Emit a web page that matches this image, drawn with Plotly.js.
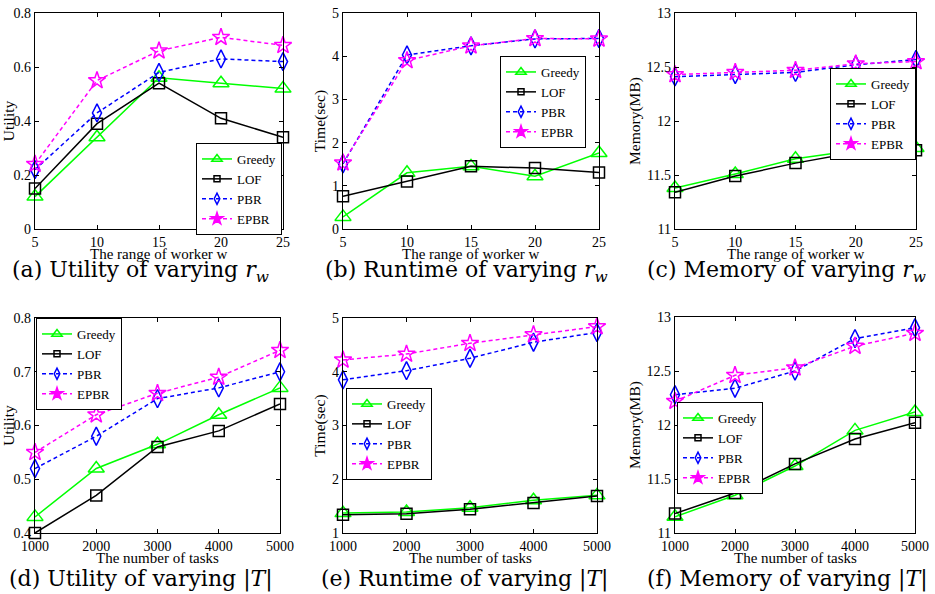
<!DOCTYPE html>
<html>
<head>
<meta charset="utf-8">
<script src="https://cdn.plot.ly/plotly-3.0.1.min.js"></script>
<style>html,body{margin:0;padding:0;background:#fff;}#chart{width:935px;height:594px;}</style>
</head>
<body>
<div id="chart"></div>
<script>
// ---- data ----
const seriesNames = ["Greedy", "LOF", "PBR", "EPBR"];
const xRw = [5, 10, 15, 20, 25];
const xTasks = [1000, 2000, 3000, 4000, 5000];

const utilRwGreedy = [0.12, 0.34, 0.56, 0.54, 0.52];
const utilRwLOF    = [0.15, 0.39, 0.54, 0.41, 0.34];
const utilRwPBR    = [0.22, 0.43, 0.58, 0.63, 0.62];
const utilRwEPBR   = [0.24, 0.55, 0.66, 0.71, 0.68];

const timeRwGreedy = [0.28, 1.30, 1.45, 1.22, 1.76];
const timeRwLOF    = [0.76, 1.10, 1.45, 1.41, 1.31];
const timeRwPBR    = [1.51, 4.03, 4.24, 4.40, 4.41];
const timeRwEPBR   = [1.53, 3.90, 4.24, 4.41, 4.40];

const memRwGreedy = [11.38, 11.51, 11.65, 11.73, 11.75];
const memRwLOF    = [11.34, 11.49, 11.61, 11.71, 11.73];
const memRwPBR    = [12.41, 12.43, 12.45, 12.52, 12.57];
const memRwEPBR   = [12.43, 12.45, 12.47, 12.53, 12.55];

const utilTGreedy = [0.43, 0.52, 0.565, 0.62, 0.67];
const utilTLOF    = [0.40, 0.47, 0.56, 0.59, 0.64];
const utilTPBR    = [0.52, 0.58, 0.65, 0.67, 0.70];
const utilTEPBR   = [0.55, 0.62, 0.66, 0.69, 0.74];

const timeTGreedy = [1.37, 1.39, 1.47, 1.61, 1.70];
const timeTLOF    = [1.34, 1.36, 1.44, 1.56, 1.69];
const timeTPBR    = [3.85, 4.02, 4.25, 4.55, 4.73];
const timeTEPBR   = [4.22, 4.33, 4.53, 4.69, 4.84];

const memTGreedy = [11.15, 11.35, 11.62, 11.95, 12.12];
const memTLOF    = [11.18, 11.37, 11.64, 11.87, 12.02];
const memTPBR    = [12.28, 12.34, 12.50, 12.80, 12.90];
const memTEPBR   = [12.22, 12.46, 12.53, 12.73, 12.85];

const xTitles = ["The range of worker w", "The range of worker w", "The range of worker w",
                 "The number of tasks", "The number of tasks", "The number of tasks"];
const yTitles = ["Utility", "Time(sec)", "Memory(MB)", "Utility", "Time(sec)", "Memory(MB)"];
const captions = ["(a) Utility of varying <i>r</i><sub><i>w</i></sub>",
                  "(b) Runtime of varying <i>r</i><sub><i>w</i></sub>",
                  "(c) Memory of varying <i>r</i><sub><i>w</i></sub>",
                  "(d) Utility of varying |<i>T</i>|",
                  "(e) Runtime of varying |<i>T</i>|",
                  "(f) Memory of varying |<i>T</i>|"];

// ---- styles ----
const W = 935, H = 594;
const styles = [
  {color: "#00ff00", symbol: "triangle-up-open", size: 14, lsize: 9, dash: "solid"},
  {color: "#000000", symbol: "square-open", size: 11, lsize: 6, dash: "solid"},
  {color: "#0000ff", symbol: "diamond-tall-open", size: 13, lsize: 8, dash: "4px,3px"},
  {color: "#ff00ff", symbol: "star-open", size: 13, lsize: 9, dash: "4px,3px"}
];
const panels = [
  {x: xRw, ys: [utilRwGreedy, utilRwLOF, utilRwPBR, utilRwEPBR], px: [35, 283], py: [13, 229], yr: [0, 0.8], dy: 0.2, xr: [5, 25], dx: 5, leg: [196, 143], cap: [140, 271], xt: 254},
  {x: xRw, ys: [timeRwGreedy, timeRwLOF, timeRwPBR, timeRwEPBR], px: [343, 599], py: [13, 229], yr: [0, 5], dy: 1, xr: [5, 25], dx: 5, leg: [500, 56], cap: [466, 271], xt: 254},
  {x: xRw, ys: [memRwGreedy, memRwLOF, memRwPBR, memRwEPBR], px: [675, 916], py: [13, 229], yr: [11, 13], dy: 0.5, xr: [5, 25], dx: 5, leg: [830, 68], cap: [786, 271], xt: 254},
  {x: xTasks, ys: [utilTGreedy, utilTLOF, utilTPBR, utilTEPBR], px: [35, 280], py: [318, 533], yr: [0.4, 0.8], dy: 0.1, xr: [1000, 5000], dx: 1000, leg: [36, 318], cap: [141, 579], xt: 558},
  {x: xTasks, ys: [timeTGreedy, timeTLOF, timeTPBR, timeTEPBR], px: [343, 597], py: [318, 533], yr: [1, 5], dy: 1, xr: [1000, 5000], dx: 1000, leg: [346, 388], cap: [465, 579], xt: 558},
  {x: xTasks, ys: [memTGreedy, memTLOF, memTPBR, memTEPBR], px: [675, 915], py: [317, 533], yr: [11, 13], dy: 0.5, xr: [1000, 5000], dx: 1000, leg: [677, 402], cap: [787, 579], xt: 558}
];

const SERIF = "Liberation Serif, Times New Roman, serif";
const traces = [];
const layout = {
  width: W, height: H,
  margin: {l: 0, r: 0, t: 0, b: 0},
  paper_bgcolor: "#fff", plot_bgcolor: "#fff",
  showlegend: true,
  annotations: []
};

panels.forEach((p, i) => {
  const n = i + 1;
  const xa = "x" + (n === 1 ? "" : n), ya = "y" + (n === 1 ? "" : n);
  const legName = "legend" + (n === 1 ? "" : n);
  p.ys.forEach((y, k) => {
    const s = styles[k];
    traces.push({
      type: "scatter", mode: "lines+markers", x: p.x, y: y,
      name: seriesNames[k], xaxis: xa, yaxis: ya, showlegend: false,
      cliponaxis: false,
      line: {color: s.color, width: 1.5, dash: s.dash},
      marker: {symbol: s.symbol, size: s.size, color: s.color, line: {color: s.color, width: 1.5}}
    });
  });
  // legend entries (small symbols, as in the reference)
  p.ys.forEach((y, k) => {
    const s = styles[k];
    traces.push({
      type: "scatter", mode: "lines+markers", x: [null], y: [null],
      name: seriesNames[k], xaxis: xa, yaxis: ya, legend: legName, showlegend: true,
      line: {color: s.color, width: 1.5, dash: s.dash},
      marker: {symbol: k === 3 ? "star" : s.symbol, size: s.lsize, color: s.color, line: {color: s.color, width: 1.5}}
    });
  });
  const axBase = {
    showline: true, linecolor: "#000", linewidth: 1.2, mirror: "ticks",
    ticks: "inside", ticklen: 4, tickcolor: "#000", tickwidth: 1,
    showgrid: false, zeroline: false,
    tickfont: {family: SERIF, size: 14, color: "#000"}, automargin: false
  };
  layout["xaxis" + (n === 1 ? "" : n)] = Object.assign({}, axBase, {
    domain: [p.px[0] / W, p.px[1] / W], anchor: ya, range: p.xr, dtick: p.dx, tick0: p.xr[0]
  });
  layout["yaxis" + (n === 1 ? "" : n)] = Object.assign({}, axBase, {
    domain: [1 - p.py[1] / H, 1 - p.py[0] / H], anchor: xa, range: p.yr, dtick: p.dy, tick0: p.yr[0],
    title: {text: yTitles[i], font: {family: SERIF, size: 15.5, color: "#000"}, standoff: 2}
  });
  layout[legName] = {
    x: p.leg[0] / W, y: 1 - p.leg[1] / H, xanchor: "left", yanchor: "top",
    xref: "paper", yref: "paper",
    bgcolor: "#fff", bordercolor: "#000", borderwidth: 1,
    font: {family: SERIF, size: 13, color: "#000"},
    itemwidth: 30, tracegroupgap: 0
  };
  // x-axis title, placed close under the tick labels as in the reference
  layout.annotations.push({
    text: xTitles[i], xref: "paper", yref: "paper",
    x: (p.px[0] + p.px[1]) / 2 / W, y: 1 - p.xt / H, xanchor: "center", yanchor: "middle",
    showarrow: false,
    font: {family: SERIF, size: 15, color: "#000"}
  });
  layout.annotations.push({
    text: captions[i], xref: "paper", yref: "paper",
    x: p.cap[0] / W, y: 1 - p.cap[1] / H, xanchor: "center", yanchor: "middle",
    showarrow: false,
    font: {family: "DejaVu Serif, serif", size: 22, color: "#000"}
  });
});

Plotly.newPlot("chart", traces, layout, {staticPlot: true, displayModeBar: false});
</script>
</body>
</html>
